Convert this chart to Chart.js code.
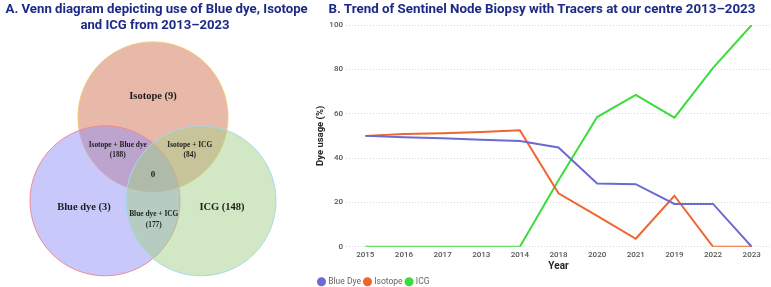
<!DOCTYPE html>
<html>
<head>
<meta charset="utf-8">
<script src="https://cdn.jsdelivr.net/npm/chart.js@4"></script>
<style>
  html, body { margin:0; padding:0; background:#fff; overflow:hidden; }
  #wrap { position:relative; width:771px; height:287px; overflow:hidden; background:#fff; }
  .ttl { position:absolute; font-family:Roboto, sans-serif; font-weight:700; font-size:13px; color:#1c2a86; white-space:nowrap; transform-origin:center center; line-height:16px; }
  #vennBox { position:absolute; left:3px; top:0; width:300px; height:287px; }
  #lineBox { position:absolute; left:290px; top:0; width:481px; height:296px; }
</style>
</head>
<body>
<div id="wrap">
  <div id="vennBox"><canvas id="venn"></canvas></div>
  <div id="lineBox"><canvas id="line"></canvas></div>
  <div class="ttl" data-cx="156" data-cy="8.5" data-w="302">A. Venn diagram depicting use of Blue dye, Isotope</div>
  <div class="ttl" data-cx="155" data-cy="25" data-w="149">and ICG from 2013–2023</div>
  <div class="ttl" data-cx="541.5" data-cy="9" data-w="427">B. Trend of Sentinel Node Biopsy with Tracers at our centre 2013–2023</div>
</div>
<script>
// ---------- DATA ----------
// Venn diagram
const vennSets = ['Isotope', 'Blue dye', 'ICG'];
const vennOnly = [9, 3, 148];
const vennPairs = ['Isotope + Blue dye', 'Isotope + ICG', 'Blue dye + ICG'];
const vennPairCounts = [188, 84, 177];
const vennAll = 0;

// Line chart
const years = ['2015', '2016', '2017', '2013', '2014', '2018', '2020', '2021', '2019', '2022', '2023'];
const blueDye = [50, 49.4, 48.9, 48.3, 47.7, 44.8, 28.5, 28.2, 19.3, 19.3, 0];
const isotope = [50, 50.8, 51.2, 51.8, 52.5, 24.1, 13.9, 3.6, 23, 0, 0];
const icg = [0, 0, 0, 0, 0, 30, 58.5, 68.5, 58.2, 80.7, 100];
const yTicks = [0, 20, 40, 60, 80, 100];

// ---------- TITLES ----------
document.querySelectorAll('.ttl').forEach(el => {
  const w = el.offsetWidth, h = el.offsetHeight;
  const cx = +el.dataset.cx, cy = +el.dataset.cy, tw = +el.dataset.w;
  el.style.left = (cx - w / 2) + 'px';
  el.style.top = (cy - h / 2) + 'px';
  el.style.transform = 'scaleX(' + (tw / w) + ')';
});

// ---------- VENN ----------
// geometry in units of circle radius
const vennCenters = [{x: 0, y: 0.56}, {x: -0.64, y: -0.56}, {x: 0.64, y: -0.56}];
const vennRadius = 1;
const vennFill = ['rgba(209,113,81,0.5)', 'rgba(145,145,245,0.5)', 'rgba(165,209,137,0.5)'];
const vennStroke = ['#f2c77a', '#ee8a96', '#a6d8e8'];
const labelPos = {
  only: [{x: 0, y: 0.84}, {x: -0.92, y: -0.64}, {x: 0.92, y: -0.64}],
  pairs: [{x: -0.47, y: 0.19}, {x: 0.49, y: 0.19}, {x: 0.01, y: -0.74}],
  all: {x: 0, y: -0.21}
};

const vennLabels = {
  id: 'vennLabels',
  afterDatasetsDraw(chart) {
    const {ctx, scales: {x, y}} = chart;
    ctx.save();
    ctx.fillStyle = '#1e1e1e';
    ctx.textAlign = 'center';
    ctx.textBaseline = 'middle';
    ctx.font = 'bold 10.5px "Liberation Serif", serif';
    vennSets.forEach((s, i) => {
      const p = labelPos.only[i];
      ctx.fillText(s + ' (' + vennOnly[i] + ')', x.getPixelForValue(p.x), y.getPixelForValue(p.y));
    });
    ctx.font = 'bold 7.4px "Liberation Serif", serif';
    vennPairs.forEach((s, i) => {
      const p = labelPos.pairs[i];
      const px = x.getPixelForValue(p.x), py = y.getPixelForValue(p.y);
      ctx.fillText(s, px, py);
      ctx.fillText('(' + vennPairCounts[i] + ')', px, py + 10.5);
    });
    ctx.font = 'bold 9px "Liberation Serif", serif';
    ctx.fillText(String(vennAll), x.getPixelForValue(labelPos.all.x), y.getPixelForValue(labelPos.all.y));
    ctx.restore();
  }
};

new Chart(document.getElementById('venn'), {
  type: 'scatter',
  data: {
    datasets: [{
      data: vennCenters,
      backgroundColor: vennFill,
      borderColor: vennStroke,
      borderWidth: 1,
      pointRadius: c => {
        const sx = c.chart.scales.x;
        return Math.abs(sx.getPixelForValue(vennRadius) - sx.getPixelForValue(0));
      },
      clip: false
    }]
  },
  options: {
    responsive: true, maintainAspectRatio: false, animation: false, events: [],
    layout: {padding: 0},
    plugins: {legend: {display: false}, tooltip: {enabled: false}},
    scales: {
      x: {type: 'linear', min: -2, max: 2, display: false},
      y: {type: 'linear', min: -1.71, max: 2.12, display: false}
    }
  },
  plugins: [vennLabels]
});

// ---------- LINE CHART ----------
const tickFont = {family: 'Roboto', size: 8, weight: '500'};
new Chart(document.getElementById('line'), {
  type: 'line',
  data: {
    labels: years,
    datasets: [
      {label: 'Blue Dye', data: blueDye, borderColor: '#6b6bd4', backgroundColor: '#6b6bd4', borderWidth: 2, pointRadius: 0, tension: 0},
      {label: 'Isotope', data: isotope, borderColor: '#f0652f', backgroundColor: '#f0652f', borderWidth: 2, pointRadius: 0, tension: 0},
      {label: 'ICG', data: icg, borderColor: '#3ddc3d', backgroundColor: '#3ddc3d', borderWidth: 2, pointRadius: 0, tension: 0}
    ]
  },
  options: {
    responsive: true, maintainAspectRatio: false, animation: false, events: [],
    layout: {padding: {left: 25, top: 25, right: 0, bottom: 0}},
    plugins: {
      tooltip: {enabled: false},
      legend: {
        position: 'bottom', align: 'start',
        labels: {usePointStyle: true, pointStyle: 'circle', boxWidth: 5, boxHeight: 5, padding: 4,
                 color: '#666', font: {family: 'Roboto', size: 8.5}}
      }
    },
    scales: {
      x: {
        offset: true,
        grid: {display: false, drawTicks: false},
        border: {display: false},
        ticks: {color: '#555', font: tickFont, padding: 3, maxRotation: 0, autoSkip: false},
        title: {display: true, text: 'Year', color: '#252525', font: {family: 'Roboto', size: 10, weight: 'bold'}, padding: {top: 0, bottom: 1}},
        afterFit: s => { s.height = 26.75; }
      },
      y: {
        min: 0, max: 100,
        afterBuildTicks: s => { s.ticks = yTicks.map(v => ({value: v})); },
        grid: {color: '#d9d9d9', drawTicks: false, lineWidth: 1},
        border: {display: false, dash: [1, 2]},
        ticks: {color: '#555', font: tickFont, padding: 3},
        title: {display: true, text: 'Dye usage (%)', color: '#252525', font: {family: 'Roboto', size: 9.5, weight: 'bold'}, padding: 0},
        afterFit: s => { s.width = 31; }
      }
    }
  }
});
</script>
</body>
</html>
